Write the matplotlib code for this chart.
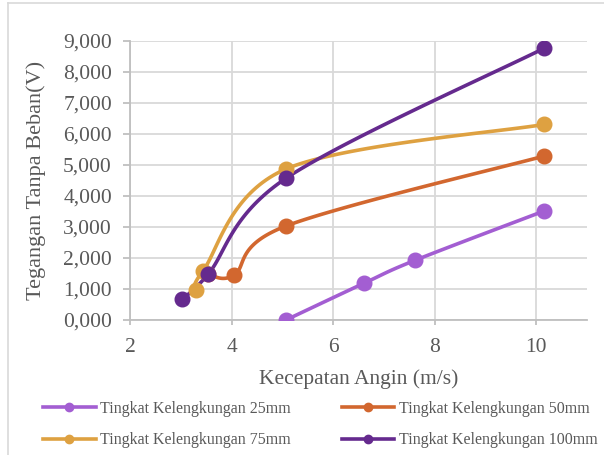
import numpy as np
import matplotlib
matplotlib.use("Agg")
import matplotlib.pyplot as plt
from matplotlib.lines import Line2D
from matplotlib.ticker import FuncFormatter

# Wind speed (m/s) and no-load voltage (V) per blade curvature level
speed_25 = [5.07, 6.60, 7.62, 10.16]
volt_25 = [0.00, 1.18, 1.93, 3.52]

speed_50 = [3.54, 4.05, 5.07, 10.16]
volt_50 = [1.48, 1.45, 3.03, 5.29]

speed_75 = [3.30, 3.44, 5.07, 10.16]
volt_75 = [0.97, 1.59, 4.87, 6.31]

speed_100 = [3.03, 3.54, 5.07, 10.16]
volt_100 = [0.68, 1.48, 4.57, 8.77]

labels = ["Tingkat Kelengkungan 25mm", "Tingkat Kelengkungan 50mm",
          "Tingkat Kelengkungan 75mm", "Tingkat Kelengkungan 100mm"]
colors = ["#a35ed2", "#d2672f", "#dea141", "#652a8e"]

x_ticks = [2, 4, 6, 8, 10]
y_ticks = [0, 1, 2, 3, 4, 5, 6, 7, 8, 9]


def smooth(xs, ys, n=40):
    """Cardinal (Catmull-Rom) Bezier smoothing through the points."""
    p = np.column_stack([xs, ys]).astype(float)
    p = np.vstack([p[0], p, p[-1]])
    out = []
    t = np.linspace(0, 1, n)[:, None]
    for i in range(1, len(p) - 2):
        p0, p1, p2, p3 = p[i - 1], p[i], p[i + 1], p[i + 2]
        c1 = p1 + (p2 - p0) / 6.0
        c2 = p2 - (p3 - p1) / 6.0
        seg = ((1 - t) ** 3) * p1 + 3 * ((1 - t) ** 2) * t * c1 \
            + 3 * (1 - t) * t ** 2 * c2 + t ** 3 * p2
        out.append(seg if i == 1 else seg[1:])
    s = np.vstack(out)
    return s[:, 0], s[:, 1]


plt.rcParams["font.family"] = ["Liberation Serif", "DejaVu Serif"]
text_color = "#595959"

fig = plt.figure(figsize=(6.04, 4.55), dpi=100)
ax = fig.add_axes([0.2152, 0.2967, 0.7567, 0.6132])

series = [(speed_25, volt_25), (speed_50, volt_50),
          (speed_75, volt_75), (speed_100, volt_100)]
for (xs, ys), c in zip(series, colors):
    sx, sy = smooth(xs, ys)
    ax.plot(sx, sy, color=c, lw=2.6, solid_capstyle="round", zorder=3)
    ax.plot(xs, ys, "o", color=c, ms=10.5, zorder=4)

ax.set_xlim(2, 11)
ax.set_ylim(0, 9)
ax.set_xticks(x_ticks)
ax.set_yticks(y_ticks)
ax.yaxis.set_major_formatter(FuncFormatter(lambda v, _: f"{v:.3f}".replace(".", ",")))
ax.grid(True, color="#d9d9d9", lw=1.3, zorder=0)
ax.set_axisbelow(True)
for side in ["top", "right"]:
    ax.spines[side].set_visible(False)
for side in ["left", "bottom"]:
    ax.spines[side].set_color("#bfbfbf")
    ax.spines[side].set_linewidth(1.3)
ax.tick_params(axis="both", colors="#bfbfbf", labelcolor=text_color,
               labelsize=15.5, width=1.3)
ax.tick_params(axis="y", length=5, pad=8)
ax.tick_params(axis="x", length=3.6, pad=9)

ax.set_xlabel("Kecepatan Angin (m/s)", fontsize=15.5, color=text_color)
ax.xaxis.set_label_coords(0.5, -0.211)
ax.xaxis.label.set_va("center")
ax.set_ylabel("Tegangan Tanpa Beban(V)", fontsize=16, color=text_color)
ax.yaxis.set_label_coords(-(130 - 36) / 457.0, 0.5)
ax.yaxis.label.set_va("center")

# legend laid out row by row: 25mm, 50mm / 75mm, 100mm
order = [0, 2, 1, 3]
handles = [Line2D([0], [0], color=c, lw=2.6, marker="o", ms=6) for c in colors]
fig.legend([handles[i] for i in order], [labels[i] for i in order],
           loc="upper left", bbox_to_anchor=(43 / 604, 1 - 401 / 455),
           ncol=2, frameon=False, fontsize=11.5, labelcolor=text_color,
           handlelength=3.3, handletextpad=0.3, columnspacing=3.15,
           labelspacing=0.95, borderaxespad=0, borderpad=0)

# chart-area border
fig.add_artist(Line2D([0.014, 0.014], [0, 0.994], color="#d9d9d9", lw=1.2,
                      transform=fig.transFigure))
fig.add_artist(Line2D([0.014, 1.0], [0.994, 0.994], color="#d9d9d9", lw=1.2,
                      transform=fig.transFigure))

fig.savefig("out.png", dpi=100)
